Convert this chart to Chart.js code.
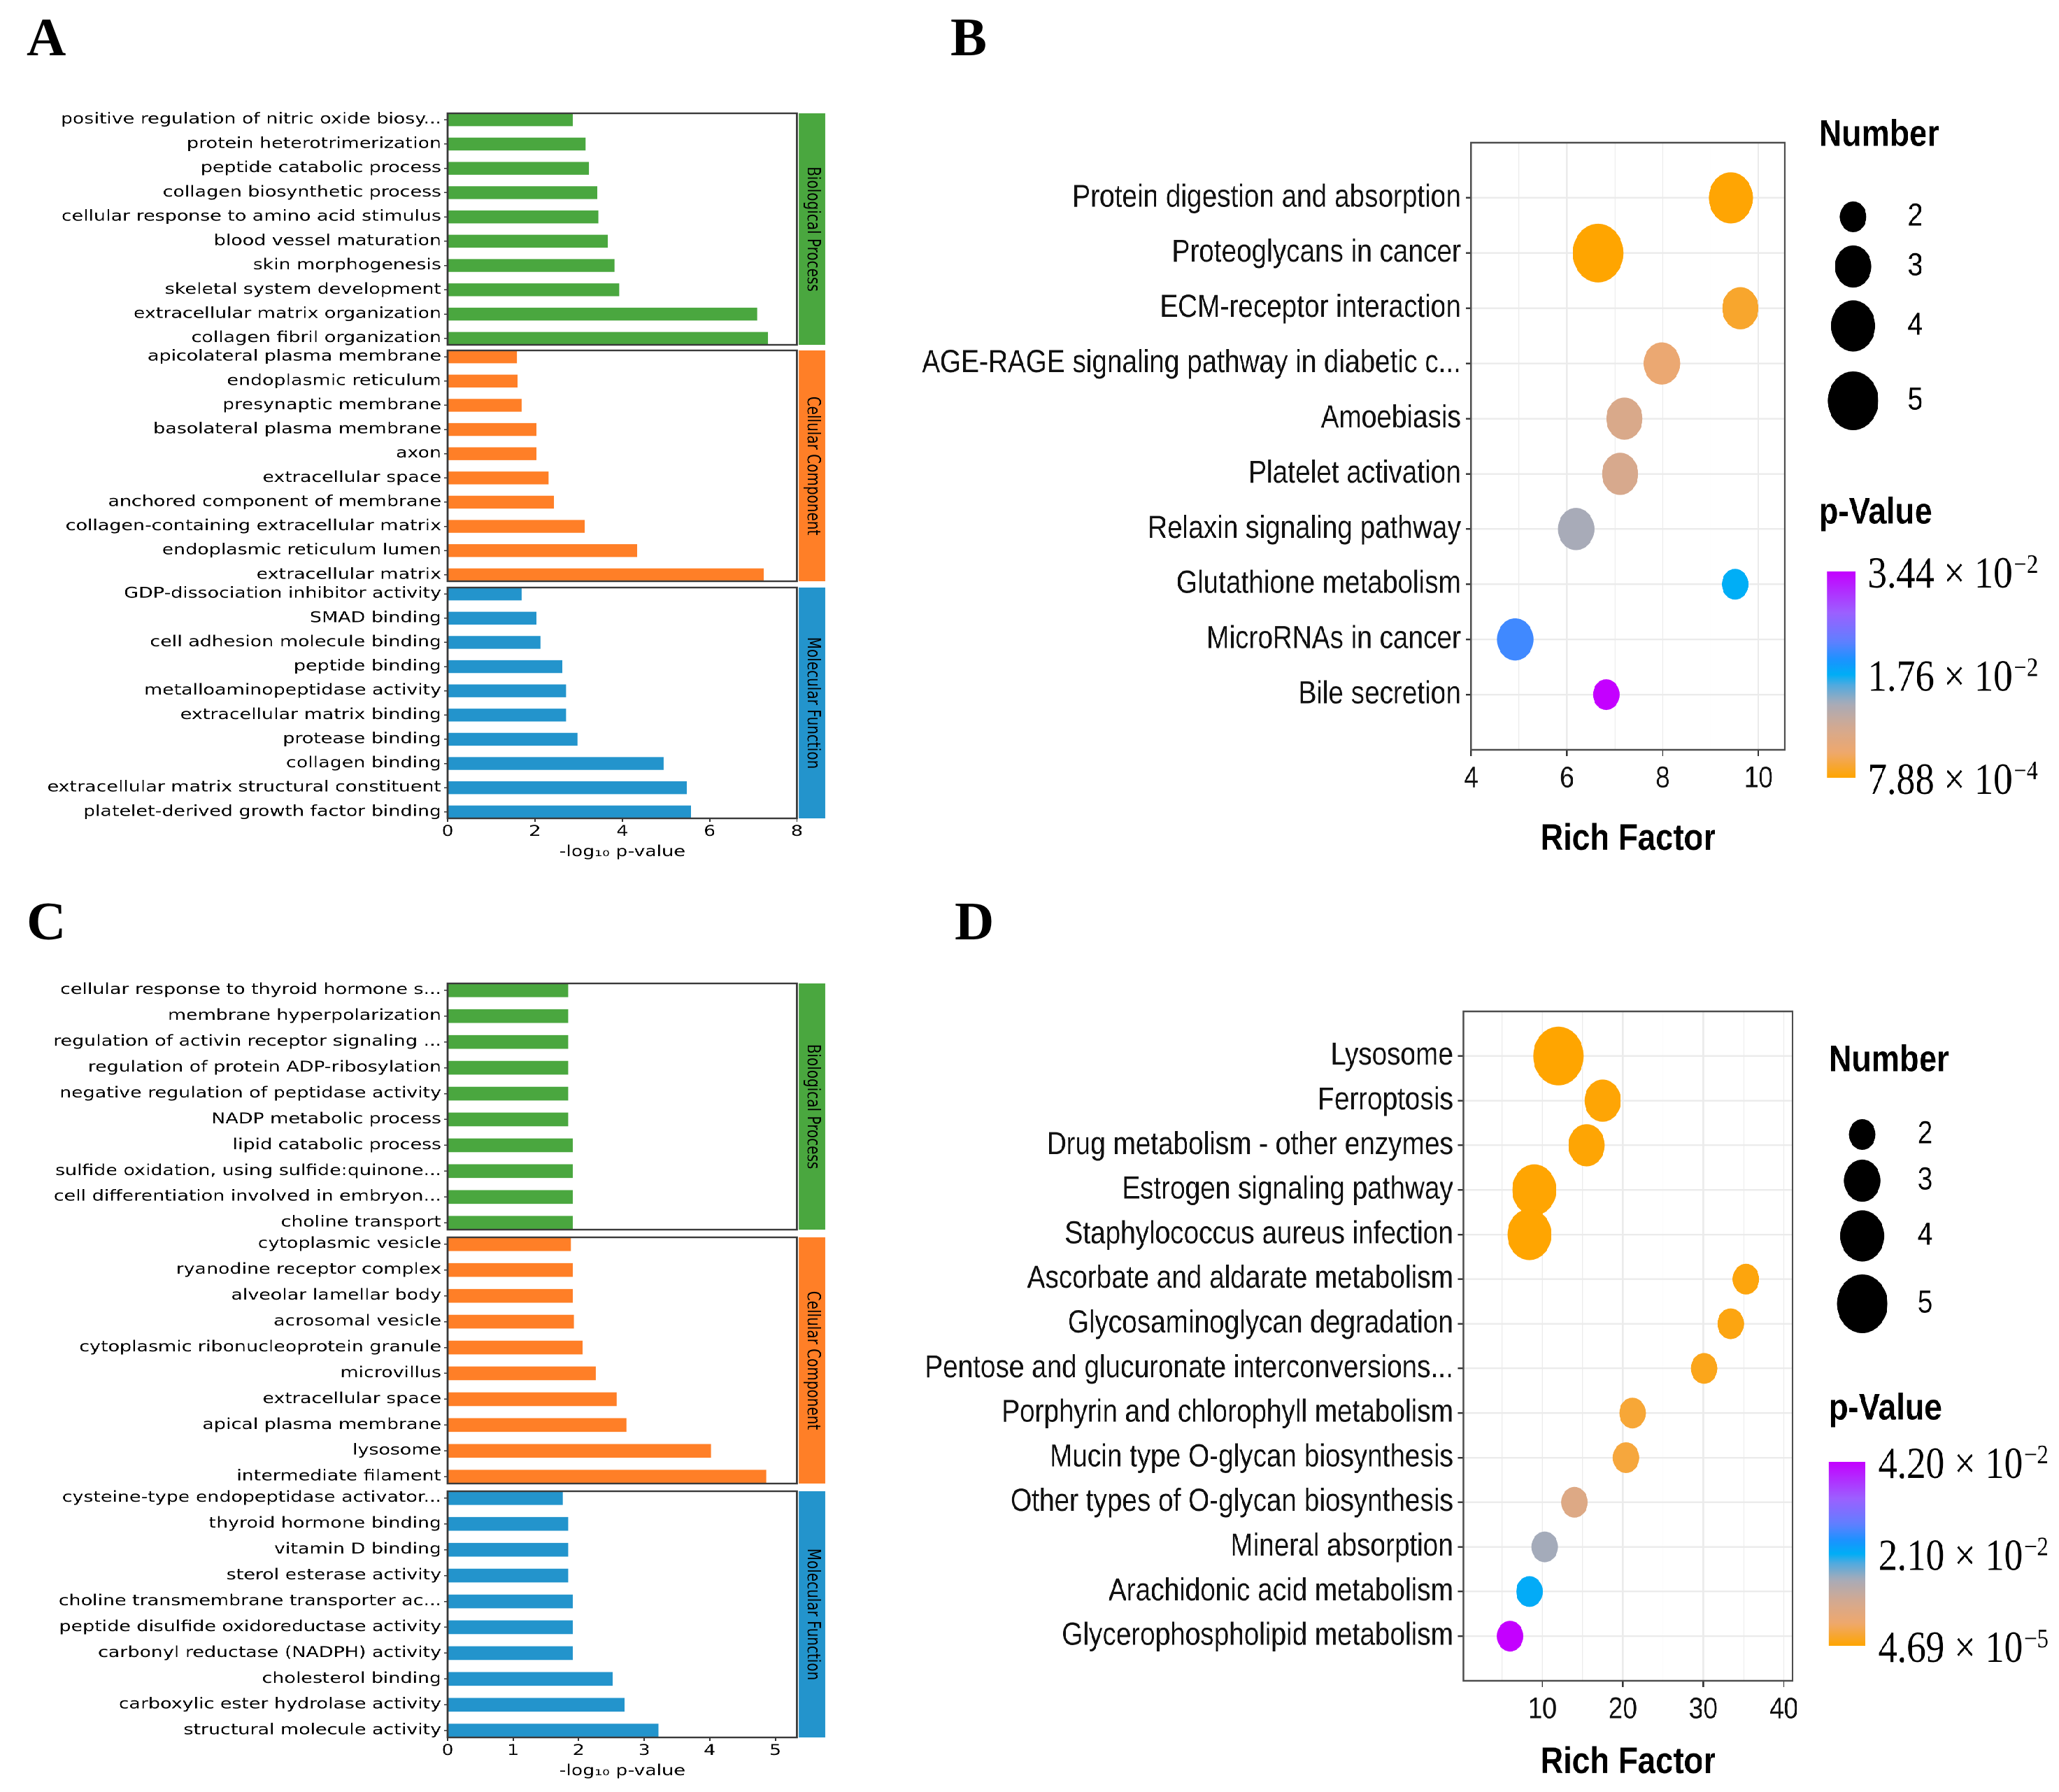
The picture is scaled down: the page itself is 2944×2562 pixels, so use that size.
<!DOCTYPE html>
<html>
<head>
<meta charset="utf-8">
<script src="https://cdn.jsdelivr.net/npm/chart.js@4.4.1/dist/chart.umd.min.js"></script>
<style>
  html, body { margin: 0; padding: 0; background: #fff; }
  #page { position: relative; width: 2944px; height: 2562px; overflow: hidden; background: #fff; }
  .letter { position: absolute; font-family: "Liberation Serif", "Times New Roman", serif; font-weight: bold; font-size: 78px; line-height: 1; color: #000; }
  .half { position: absolute; top: 0; height: 2562px; transform-origin: 0 0; }
  canvas { position: absolute; }
</style>
</head>
<body>
<div id="page">
  <div class="letter" style="left:38px;top:14px">A</div>
  <div class="letter" style="left:1359px;top:14px">B</div>
  <div class="letter" style="left:38px;top:1278px">C</div>
  <div class="letter" style="left:1365px;top:1278px">D</div>
  <div id="left" class="half"></div>
  <div id="right" class="half"></div>
</div>
<script>
// ---- panel A: GO enrichment ----
const goA_bpTerms = ["positive regulation of nitric oxide biosy...", "protein heterotrimerization", "peptide catabolic process",
  "collagen biosynthetic process", "cellular response to amino acid stimulus", "blood vessel maturation", "skin morphogenesis",
  "skeletal system development", "extracellular matrix organization", "collagen fibril organization"];
const goA_bpValues = [2.87, 3.16, 3.24, 3.43, 3.45, 3.67, 3.82, 3.93, 7.09, 7.34];
const goA_ccTerms = ["apicolateral plasma membrane", "endoplasmic reticulum", "presynaptic membrane", "basolateral plasma membrane",
  "axon", "extracellular space", "anchored component of membrane", "collagen-containing extracellular matrix",
  "endoplasmic reticulum lumen", "extracellular matrix"];
const goA_ccValues = [1.59, 1.60, 1.69, 2.03, 2.04, 2.31, 2.44, 3.14, 4.34, 7.24];
const goA_mfTerms = ["GDP-dissociation inhibitor activity", "SMAD binding", "cell adhesion molecule binding", "peptide binding",
  "metalloaminopeptidase activity", "extracellular matrix binding", "protease binding", "collagen binding",
  "extracellular matrix structural constituent", "platelet-derived growth factor binding"];
const goA_mfValues = [1.69, 2.03, 2.13, 2.63, 2.71, 2.71, 2.97, 4.95, 5.48, 5.57];
const goA_xTicks = [0, 2, 4, 6, 8];

// ---- panel C: GO enrichment ----
const goC_bpTerms = ["cellular response to thyroid hormone s...", "membrane hyperpolarization", "regulation of activin receptor signaling ...",
  "regulation of protein ADP-ribosylation", "negative regulation of peptidase activity", "NADP metabolic process",
  "lipid catabolic process", "sulfide oxidation, using sulfide:quinone...", "cell differentiation involved in embryon...", "choline transport"];
const goC_bpValues = [1.84, 1.84, 1.84, 1.84, 1.84, 1.84, 1.91, 1.91, 1.91, 1.91];
const goC_ccTerms = ["cytoplasmic vesicle", "ryanodine receptor complex", "alveolar lamellar body", "acrosomal vesicle",
  "cytoplasmic ribonucleoprotein granule", "microvillus", "extracellular space", "apical plasma membrane", "lysosome", "intermediate filament"];
const goC_ccValues = [1.88, 1.91, 1.91, 1.93, 2.06, 2.26, 2.58, 2.73, 4.02, 4.86];
const goC_mfTerms = ["cysteine-type endopeptidase activator...", "thyroid hormone binding", "vitamin D binding", "sterol esterase activity",
  "choline transmembrane transporter ac...", "peptide disulfide oxidoreductase activity", "carbonyl reductase (NADPH) activity",
  "cholesterol binding", "carboxylic ester hydrolase activity", "structural molecule activity"];
const goC_mfValues = [1.76, 1.84, 1.84, 1.84, 1.91, 1.91, 1.91, 2.52, 2.70, 3.22];
const goC_xTicks = [0, 1, 2, 3, 4, 5];

// ---- panel B: KEGG bubbles ----
const keggB_terms = ["Protein digestion and absorption", "Proteoglycans in cancer", "ECM-receptor interaction",
  "AGE-RAGE signaling pathway in diabetic c...", "Amoebiasis", "Platelet activation", "Relaxin signaling pathway",
  "Glutathione metabolism", "MicroRNAs in cancer", "Bile secretion"];
const keggB_rich = [9.42, 6.65, 9.62, 7.98, 7.20, 7.11, 6.19, 9.51, 4.92, 6.82];
const keggB_count = [4, 5, 3, 3, 3, 3, 3, 2, 3, 2];
const keggB_p = [9.0e-4, 7.88e-4, 2.47e-3, 5.5e-3, 8.2e-3, 8.5e-3, 1.29e-2, 1.76e-2, 2.16e-2, 3.44e-2];
const keggB_xGrid = [4, 5, 6, 7, 8, 9, 10];
const keggB_xLabels = [4, 6, 8, 10];
const keggB_pBreaks = [7.88e-4, 1.76e-2, 3.44e-2];

// ---- panel D: KEGG bubbles ----
const keggD_terms = ["Lysosome", "Ferroptosis", "Drug metabolism - other enzymes", "Estrogen signaling pathway",
  "Staphylococcus aureus infection", "Ascorbate and aldarate metabolism", "Glycosaminoglycan degradation",
  "Pentose and glucuronate interconversions...", "Porphyrin and chlorophyll metabolism", "Mucin type O-glycan biosynthesis",
  "Other types of O-glycan biosynthesis", "Mineral absorption", "Arachidonic acid metabolism", "Glycerophospholipid metabolism"];
const keggD_rich = [12.0, 17.5, 15.5, 9.0, 8.4, 35.3, 33.4, 30.1, 21.2, 20.4, 14.0, 10.3, 8.4, 6.0];
const keggD_count = [5, 3, 3, 4, 4, 2, 2, 2, 2, 2, 2, 2, 2, 2];
const keggD_p = [4.69e-5, 3.0e-4, 2.2e-4, 1.4e-4, 1.1e-4, 6.5e-4, 8.5e-4, 1.3e-3, 2.6e-3, 2.9e-3, 8.6e-3, 1.53e-2, 2.14e-2, 4.20e-2];
const keggD_xGrid = [5, 10, 15, 20, 25, 30, 35, 40];
const keggD_xLabels = [10, 20, 30, 40];
const keggD_pBreaks = [4.69e-5, 2.10e-2, 4.20e-2];

const legendSizes = [2, 3, 4, 5];

// ---- look ----
const FONT_GO = '"DejaVu Sans", sans-serif';
const FONT_KEGG = '"Liberation Sans", Arial, sans-serif';
const FONT_SERIF = '"Liberation Serif", "Times New Roman", serif';
const GREEN = "#4AA73F", ORANGE = "#FF7F27", BLUE = "#2394CC";

// the original figure is stretched on the left half and squeezed on the right half
const LEFT_STRETCH = 1.28;
const RIGHT_SQUEEZE = 0.86;
const RIGHT_ORIGIN = 1300;

const GO_BAR = 0.53;
const GO_AREA_LEFT = 640 / LEFT_STRETCH;
const GO_AREA_RIGHT = 1140 / LEFT_STRETCH;
const GO_CANVAS_W = 1205 / LEFT_STRETCH;

Chart.defaults.color = "#000";
Chart.defaults.animation = false;

const leftHost = document.getElementById("left");
leftHost.style.left = "0px";
leftHost.style.width = GO_CANVAS_W + "px";
leftHost.style.transform = `scaleX(${LEFT_STRETCH})`;

const rightHost = document.getElementById("right");
rightHost.style.left = RIGHT_ORIGIN + "px";
rightHost.style.width = (1644 / RIGHT_SQUEEZE) + "px";
rightHost.style.transform = `scaleX(${RIGHT_SQUEEZE})`;

const goFramePlugin = {
  id: "goFrame",
  afterDraw(chart, args, o) {
    const { ctx, chartArea: a } = chart;
    ctx.save();
    ctx.strokeStyle = "#3a3a3a";
    ctx.lineWidth = 2.4;
    ctx.strokeRect(a.left, a.top, a.right - a.left, a.bottom - a.top);
    const sx = a.right + 3 / LEFT_STRETCH;
    const sw = 37 / LEFT_STRETCH;
    ctx.fillStyle = o.color;
    ctx.fillRect(sx, a.top, sw, a.bottom - a.top);
    ctx.translate(sx + sw / 2, (a.top + a.bottom) / 2);
    ctx.rotate(Math.PI / 2);
    ctx.fillStyle = "#000";
    ctx.font = `20px ${FONT_GO}`;
    ctx.textAlign = "center";
    ctx.textBaseline = "middle";
    ctx.fillText(o.text, 0, 0);
    ctx.restore();
  }
};

function goChart(id, terms, values, color, stripText, top, bottom, xMax, xTicks) {
  const withAxis = Array.isArray(xTicks);
  const padTop = 20;
  const axisH = withAxis ? 75 : 0;
  const padBottom = withAxis ? 0 : 20;
  const h = padTop + (bottom - top) + axisH + padBottom;
  const canvas = document.createElement("canvas");
  canvas.id = id;
  canvas.width = GO_CANVAS_W;
  canvas.height = h;
  canvas.style.left = "0px";
  canvas.style.top = (top - padTop) + "px";
  canvas.style.width = GO_CANVAS_W + "px";
  canvas.style.height = h + "px";
  leftHost.appendChild(canvas);

  return new Chart(canvas, {
    type: "bar",
    data: {
      datasets: [{
        data: values.map((v, i) => ({ x: v, y: i })),
        backgroundColor: color,
        borderWidth: 0,
        barPercentage: GO_BAR,
        categoryPercentage: 1
      }]
    },
    options: {
      indexAxis: "y",
      responsive: false,
      devicePixelRatio: 2,
      layout: { padding: { top: padTop, bottom: padBottom, left: 0, right: GO_CANVAS_W - GO_AREA_RIGHT } },
      plugins: {
        legend: { display: false },
        tooltip: { enabled: false },
        goFrame: { color, text: stripText }
      },
      scales: {
        y: {
          type: "linear",
          offset: false,
          reverse: true,
          min: -GO_BAR / 2,
          max: terms.length - 1 + GO_BAR / 2,
          afterBuildTicks: (s) => { s.ticks = terms.map((_, i) => ({ value: i })); },
          afterFit: (s) => { s.width = GO_AREA_LEFT; },
          ticks: { autoSkip: false, callback: (v) => terms[v], font: { family: FONT_GO, size: 21 }, color: "#000", padding: 3 },
          grid: { offset: false, drawOnChartArea: false, tickLength: 4, tickColor: "#333", lineWidth: 1.5 },
          border: { display: false }
        },
        x: {
          type: "linear",
          display: withAxis,
          min: 0,
          max: xMax,
          afterBuildTicks: (s) => { if (withAxis) s.ticks = xTicks.map((v) => ({ value: v })); },
          afterFit: (s) => { s.height = axisH; },
          ticks: { autoSkip: false, font: { family: FONT_GO, size: 21 }, color: "#000", padding: 2 },
          grid: { drawOnChartArea: false, tickLength: 5, tickColor: "#333", lineWidth: 1.5 },
          border: { display: false },
          title: { display: withAxis, text: "-log\u2081\u2080 p-value", font: { family: FONT_GO, size: 21 }, color: "#000", padding: { top: 0, bottom: 14 } }
        }
      }
    },
    plugins: [goFramePlugin]
  });
}

goChart("goA_bp", goA_bpTerms, goA_bpValues, GREEN, "Biological Process", 162, 493, 8, null);
goChart("goA_cc", goA_ccTerms, goA_ccValues, ORANGE, "Cellular Component", 501, 831, 8, null);
goChart("goA_mf", goA_mfTerms, goA_mfValues, BLUE, "Molecular Function", 840, 1170, 8, goA_xTicks);

goChart("goC_bp", goC_bpTerms, goC_bpValues, GREEN, "Biological Process", 1406, 1758, 5.33, null);
goChart("goC_cc", goC_ccTerms, goC_ccValues, ORANGE, "Cellular Component", 1769, 2121, 5.33, null);
goChart("goC_mf", goC_mfTerms, goC_mfValues, BLUE, "Molecular Function", 2132, 2484, 5.33, goC_xTicks);

// ---- colour ramp of the p-value legend (orange -> sky blue -> purple) ----
const P_STOPS = [[0, "#FFA500"], [0.12, "#EFA86C"], [0.24, "#D5A990"], [0.36, "#A8ABB8"], [0.45, "#4FAAE0"],
  [0.5, "#00AEF6"], [0.57, "#1994FF"], [0.66, "#6080FF"], [0.8, "#9C60FF"], [1, "#C400FF"]];

function hexRgb(h) {
  return [1, 3, 5].map((k) => parseInt(h.slice(k, k + 2), 16));
}

function rampAt(t) {
  t = Math.max(0, Math.min(1, t));
  for (let i = 1; i < P_STOPS.length; i++) {
    const [t1, c1] = P_STOPS[i];
    if (t <= t1) {
      const [t0, c0] = P_STOPS[i - 1];
      const f = (t - t0) / (t1 - t0);
      const a = hexRgb(c0), b = hexRgb(c1);
      const c = a.map((v, k) => Math.round(v + (b[k] - v) * f));
      return `rgb(${c[0]},${c[1]},${c[2]})`;
    }
  }
  return P_STOPS[P_STOPS.length - 1][1];
}

function bubbleRadius(n) {
  const r2min = 22 * 22, r2max = 42 * 42;
  return Math.sqrt(r2min + (n - 2) * (r2max - r2min) / 3);
}

const X = (x) => (x - RIGHT_ORIGIN) / RIGHT_SQUEEZE;

const keggLegendPlugin = {
  id: "keggLegend",
  afterDraw(chart, args, o) {
    const ctx = chart.ctx;
    const Y = (y) => y - o.canvasTop;
    ctx.save();
    // panel border
    const a = chart.chartArea;
    ctx.strokeStyle = "#4d4d4d";
    ctx.lineWidth = 2.5;
    ctx.strokeRect(a.left, a.top, a.right - a.left, a.bottom - a.top);

    ctx.fillStyle = "#000";
    ctx.textAlign = "left";
    ctx.textBaseline = "middle";
    ctx.font = `bold 53px ${FONT_KEGG}`;
    ctx.fillText("Number", X(o.titleX), Y(o.numberY));
    ctx.font = `45px ${FONT_KEGG}`;
    legendSizes.forEach((s, i) => {
      ctx.beginPath();
      ctx.arc(X(o.keyX), Y(o.keyY[i]), bubbleRadius(s), 0, Math.PI * 2);
      ctx.fill();
      ctx.fillText(String(s), X(o.keyLabelX), Y(o.keyY[i]));
    });
    ctx.font = `bold 53px ${FONT_KEGG}`;
    ctx.fillText("p-Value", X(o.titleX), Y(o.pTitleY));

    const x0 = X(o.cb[0]), x1 = X(o.cb[1]), y0 = Y(o.cb[2]), y1 = Y(o.cb[3]);
    const g = ctx.createLinearGradient(0, y1, 0, y0);
    for (let k = 0; k <= 40; k++) g.addColorStop(k / 40, rampAt(k / 40));
    ctx.fillStyle = g;
    ctx.fillRect(x0, y0, x1 - x0, y1 - y0);

    ctx.fillStyle = "#000";
    ctx.textBaseline = "alphabetic";
    o.breaks.forEach((v) => {
      const t = (v - o.pMin) / (o.pMax - o.pMin);
      const y = y1 - t * (y1 - y0);
      const e = Math.floor(Math.log10(v) + 1e-9);
      const m = (v / Math.pow(10, e)).toFixed(2);
      const base = y + 23;
      const main = `${m} \u00d7 10`;
      ctx.font = `63px ${FONT_SERIF}`;
      ctx.fillText(main, X(o.cbLabelX), base);
      const w = ctx.measureText(main).width;
      ctx.font = `38px ${FONT_SERIF}`;
      ctx.fillText("\u2212" + Math.abs(e), X(o.cbLabelX) + w + 2, base - 21);
    });
    ctx.restore();
  }
};

function keggChart(id, terms, rich, count, pval, xMin, xMax, xGrid, xLabels, breaks, L) {
  const w = 1644 / RIGHT_SQUEEZE;
  const h = L.canvasH;
  const canvas = document.createElement("canvas");
  canvas.id = id;
  canvas.width = w;
  canvas.height = h;
  canvas.style.left = "0px";
  canvas.style.top = L.canvasTop + "px";
  canvas.style.width = w + "px";
  canvas.style.height = h + "px";
  rightHost.appendChild(canvas);

  const pMin = Math.min(...pval), pMax = Math.max(...pval);
  const axisH = L.canvasTop + h - L.bottom;

  return new Chart(canvas, {
    type: "bubble",
    data: {
      datasets: [{
        data: terms.map((t, i) => ({ x: rich[i], y: i + 1, r: bubbleRadius(count[i]) })),
        backgroundColor: (c) => rampAt((pval[c.dataIndex] - pMin) / (pMax - pMin)),
        borderWidth: 0,
        hoverRadius: 0
      }]
    },
    options: {
      responsive: false,
      devicePixelRatio: 2,
      layout: { padding: { top: L.top - L.canvasTop, bottom: 0, left: 0, right: w - X(L.right) } },
      plugins: {
        legend: { display: false },
        tooltip: { enabled: false },
        keggLegend: Object.assign({ canvasTop: L.canvasTop, pMin, pMax, breaks }, L.legend)
      },
      scales: {
        y: {
          type: "linear",
          reverse: true,
          min: 0,
          max: terms.length + 1,
          afterBuildTicks: (s) => { s.ticks = terms.map((_, i) => ({ value: i + 1 })); },
          afterFit: (s) => { s.width = X(L.left); },
          ticks: { autoSkip: false, callback: (v) => terms[v - 1], font: { family: FONT_KEGG, size: 45 }, color: "#111", padding: 8 },
          grid: { color: "#EBEBEB", lineWidth: 2.4, tickLength: 9, tickColor: "#333" },
          border: { display: false }
        },
        x: {
          type: "linear",
          min: xMin,
          max: xMax,
          afterBuildTicks: (s) => { s.ticks = xGrid.map((v) => ({ value: v })); },
          afterFit: (s) => { s.height = axisH; },
          ticks: { autoSkip: false, maxRotation: 0, callback: (v) => (xLabels.includes(v) ? String(v) : ""), font: { family: FONT_KEGG, size: 43 }, color: "#111", padding: 7 },
          grid: {
            color: "#EBEBEB",
            lineWidth: (c) => (xLabels.includes(c.tick && c.tick.value) ? 2.4 : 1.2),
            tickLength: 9,
            tickColor: (c) => (xLabels.includes(c.tick && c.tick.value) ? "#333" : "rgba(0,0,0,0)")
          },
          border: { display: false },
          title: { display: true, text: "Rich Factor", font: { family: FONT_KEGG, size: 53, weight: "bold" }, color: "#000", padding: { top: 0, bottom: L.titlePad } }
        }
      }
    },
    plugins: [keggLegendPlugin]
  });
}

keggChart("keggB", keggB_terms, keggB_rich, keggB_count, keggB_p, 4, 10.55, keggB_xGrid, keggB_xLabels, keggB_pBreaks, {
  canvasTop: 0, canvasH: 1280, left: 2103, right: 2552, top: 204, bottom: 1072, titlePad: 48,
  legend: { titleX: 2600, numberY: 194, keyX: 2649, keyY: [310, 381, 466, 573], keyLabelX: 2727,
    pTitleY: 734, cb: [2612, 2652, 817, 1112], cbLabelX: 2670 }
});

keggChart("keggD", keggD_terms, keggD_rich, keggD_count, keggD_p, 0.2, 41.1, keggD_xGrid, keggD_xLabels, keggD_pBreaks, {
  canvasTop: 1280, canvasH: 1282, left: 2092, right: 2563, top: 1446, bottom: 2403, titlePad: 10,
  legend: { titleX: 2614, numberY: 1517, keyX: 2662, keyY: [1622, 1688, 1767, 1864], keyLabelX: 2741,
    pTitleY: 2015, cb: [2614, 2666, 2090, 2353], cbLabelX: 2685 }
});
</script>
</body>
</html>
